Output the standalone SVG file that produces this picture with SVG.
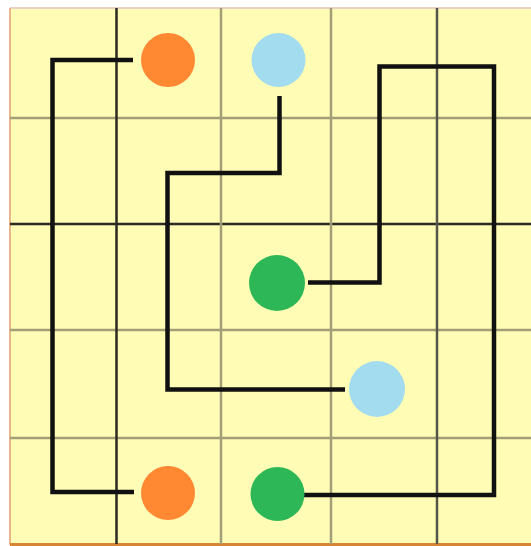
<svg xmlns="http://www.w3.org/2000/svg" width="531" height="546" viewBox="0 0 531 546">
<style>
.bg{fill:#FFFDB5}
.gl{stroke:#A29E78;stroke-width:2.5}
.gd{stroke:#2a2a22;stroke-width:2.5}
.gm{stroke:#55554a;stroke-width:2.5}
.c{fill:none;stroke:#111;stroke-width:4.5;stroke-linecap:butt;stroke-linejoin:miter}
.or{fill:#FF8833}.bl{fill:#A3DCEE}.gr{fill:#2EB757}
</style>
<rect x="0" y="0" width="531" height="546" fill="#ffffff"/>
<g id="board">
<rect class="bg" x="10" y="8" width="521" height="536"/>
<line x1="10" y1="8" x2="531" y2="8" stroke="#EBCFC0" stroke-width="2"/>
<line x1="10" y1="8" x2="10" y2="545" stroke="#E9B78C" stroke-width="2"/>
<line x1="10" y1="544.5" x2="531" y2="544.5" stroke="#D88435" stroke-width="3"/>
<line class="gl" x1="10" y1="118" x2="531" y2="118"/>
<line class="gd" x1="10" y1="224" x2="531" y2="224"/>
<line class="gl" x1="10" y1="330" x2="531" y2="330"/>
<line class="gl" x1="10" y1="438" x2="531" y2="438"/>
<line class="gd" x1="116.5" y1="8" x2="116.5" y2="544"/>
<line class="gl" x1="221" y1="8" x2="221" y2="544"/>
<line class="gl" x1="331" y1="8" x2="331" y2="544"/>
<line class="gm" x1="437" y1="8" x2="437" y2="544"/>
</g>
<g id="connectors">
<path class="c" d="M133,60 H52.5 V492 H134"/>
<path class="c" d="M279.5,96 V173 H167.5 V389.5 H345"/>
<path class="c" d="M308,282.5 H379.5 V66.5 H494 V495 H304"/>
</g>
<g id="orange-top"><circle class="or" cx="168" cy="60" r="27"/></g>
<g id="blue-top"><circle class="bl" cx="278.5" cy="60" r="27"/></g>
<g id="green-mid"><circle class="gr" cx="277" cy="283" r="28"/></g>
<g id="blue-mid"><circle class="bl" cx="377" cy="389" r="28"/></g>
<g id="orange-bottom"><circle class="or" cx="168" cy="493" r="27"/></g>
<g id="green-bottom"><circle class="gr" cx="277.5" cy="494" r="27"/></g>
</svg>
